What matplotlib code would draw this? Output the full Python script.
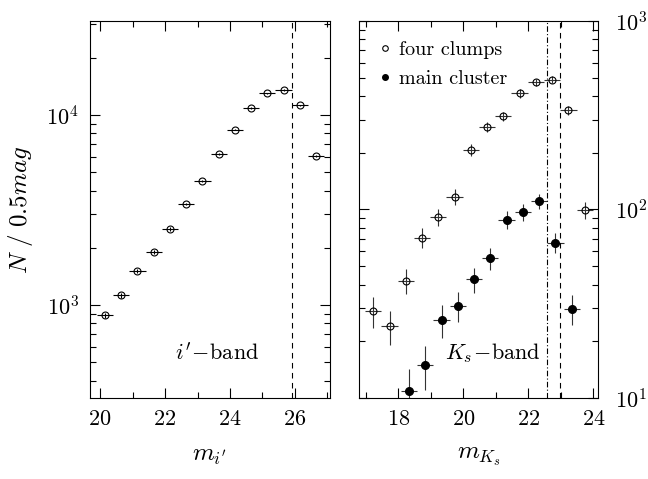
import numpy as np
import matplotlib
matplotlib.use("Agg")
import matplotlib.pyplot as plt
from matplotlib.lines import Line2D
from matplotlib.ticker import LogLocator, NullFormatter

plt.rcParams['mathtext.fontset'] = 'cm'
plt.rcParams['font.family'] = ['cmr10', 'DejaVu Serif']
plt.rcParams['axes.formatter.use_mathtext'] = True
plt.rcParams['axes.unicode_minus'] = False

# i'-band counts
i_mag = [20.15, 20.65, 21.15, 21.65, 22.15, 22.65, 23.15, 23.65, 24.15, 24.65,
         25.15, 25.65, 26.15, 26.65]
i_N = [880, 1125, 1515, 1900, 2510, 3400, 4500, 6240, 8380, 10900,
       13000, 13550, 11250, 6110]
i_limit = 25.9

# Ks-band counts
k_mag_clumps = [17.23, 17.73, 18.23, 18.73, 19.23, 19.73, 20.23, 20.73, 21.23,
                21.73, 22.23, 22.73, 23.23, 23.73]
k_N_clumps = [29, 24, 42, 71, 91, 117, 207, 273, 313, 413, 472, 489, 336, 99]
k_mag_main = [18.33, 18.83, 19.33, 19.83, 20.33, 20.83, 21.33, 21.83, 22.33,
              22.83, 23.33]
k_N_main = [10.9, 14.9, 25.9, 30.9, 42.7, 55.1, 88.3, 97, 111, 66.8, 29.8]
k_limit_main = 22.58
k_limit_clumps = 22.97

dx = 0.25

fig = plt.figure(figsize=(6.48, 4.79), dpi=100)
ax1 = fig.add_axes([0.1389, 0.1691, 0.3704, 0.7871])
ax2 = fig.add_axes([0.554, 0.1691, 0.3688, 0.7871])


def style(ax):
    ax.yaxis.set_major_locator(LogLocator(base=10))
    ax.yaxis.set_minor_locator(LogLocator(base=10, subs=np.arange(2, 10)))
    ax.yaxis.set_minor_formatter(NullFormatter())
    ax.tick_params(which='both', direction='in', top=True, right=True,
                   width=0.8, labelsize=16)
    ax.tick_params(which='major', length=7)
    ax.tick_params(which='minor', length=4)
    for s in ax.spines.values():
        s.set_linewidth(0.8)


# left panel
ax1.errorbar(i_mag, i_N, xerr=dx, yerr=np.sqrt(i_N), fmt='o', ms=5,
             mfc='none', mec='k', mew=0.8, ecolor='k', elinewidth=0.8,
             capsize=0)
ax1.axvline(i_limit, color='k', ls=(0, (5, 4)), lw=0.8)
ax1.set_yscale('log')
ax1.set_xlim(19.69, 27.08)
ax1.set_ylim(10**2.51, 10**4.495)
ax1.set_xticks([20, 22, 24, 26])
ax1.set_xticks([21, 23, 25, 27], minor=True)
style(ax1)
ax1.tick_params(axis='x', pad=8)
ax1.tick_params(axis='y', pad=8)
ax1.set_xlabel(r"$m_{i'}$", fontsize=18, labelpad=12)
ax1.set_ylabel(r"$N\ /\ 0.5mag$", fontsize=18, labelpad=8)
ax1.text(0.53, 0.12, r"$i'\!-\!\mathrm{band}$", transform=ax1.transAxes,
         fontsize=16, ha='center', va='center')

# right panel
ax2.errorbar(k_mag_clumps, k_N_clumps, xerr=dx, yerr=np.sqrt(k_N_clumps),
             fmt='o', ms=5, mfc='none', mec='k', mew=0.8, ecolor='#333333',
             elinewidth=0.8, capsize=0)
ax2.errorbar(k_mag_main, k_N_main, xerr=dx, yerr=np.sqrt(k_N_main),
             fmt='o', ms=5.5, mfc='k', mec='k', ecolor='#333333',
             elinewidth=0.8, capsize=0)
ax2.axvline(k_limit_main, color='k', ls=(0, (5, 2, 1, 2)), lw=0.8)
ax2.axvline(k_limit_clumps, color='k', ls=(0, (5, 4)), lw=0.8)
ax2.set_yscale('log')
ax2.set_xlim(16.79, 24.14)
ax2.set_ylim(10, 1000)
ax2.set_xticks([18, 20, 22, 24])
ax2.set_xticks([17, 19, 21, 23], minor=True)
style(ax2)
ax2.tick_params(axis='x', pad=8)
ax2.tick_params(axis='y', labelleft=False, labelright=True, pad=12)
ax2.set_xlabel(r"$m_{K_s}$", fontsize=18, labelpad=12)
ax2.text(0.56, 0.12, r"$K_s\!-\!\mathrm{band}$", transform=ax2.transAxes,
         fontsize=16, ha='center', va='center')

handles = [Line2D([], [], ls='none', marker='o', ms=4, mfc='none',
                  mec='k', mew=0.8),
           Line2D([], [], ls='none', marker='o', ms=4, mfc='k', mec='k')]
ax2.legend(handles, ['four clumps', 'main cluster'], loc='upper left',
           frameon=False, fontsize=14.5, handlelength=0.6, handletextpad=0.4,
           labelspacing=0.55, borderaxespad=0.5, borderpad=0.5)

fig.savefig("out.png", dpi=100)
